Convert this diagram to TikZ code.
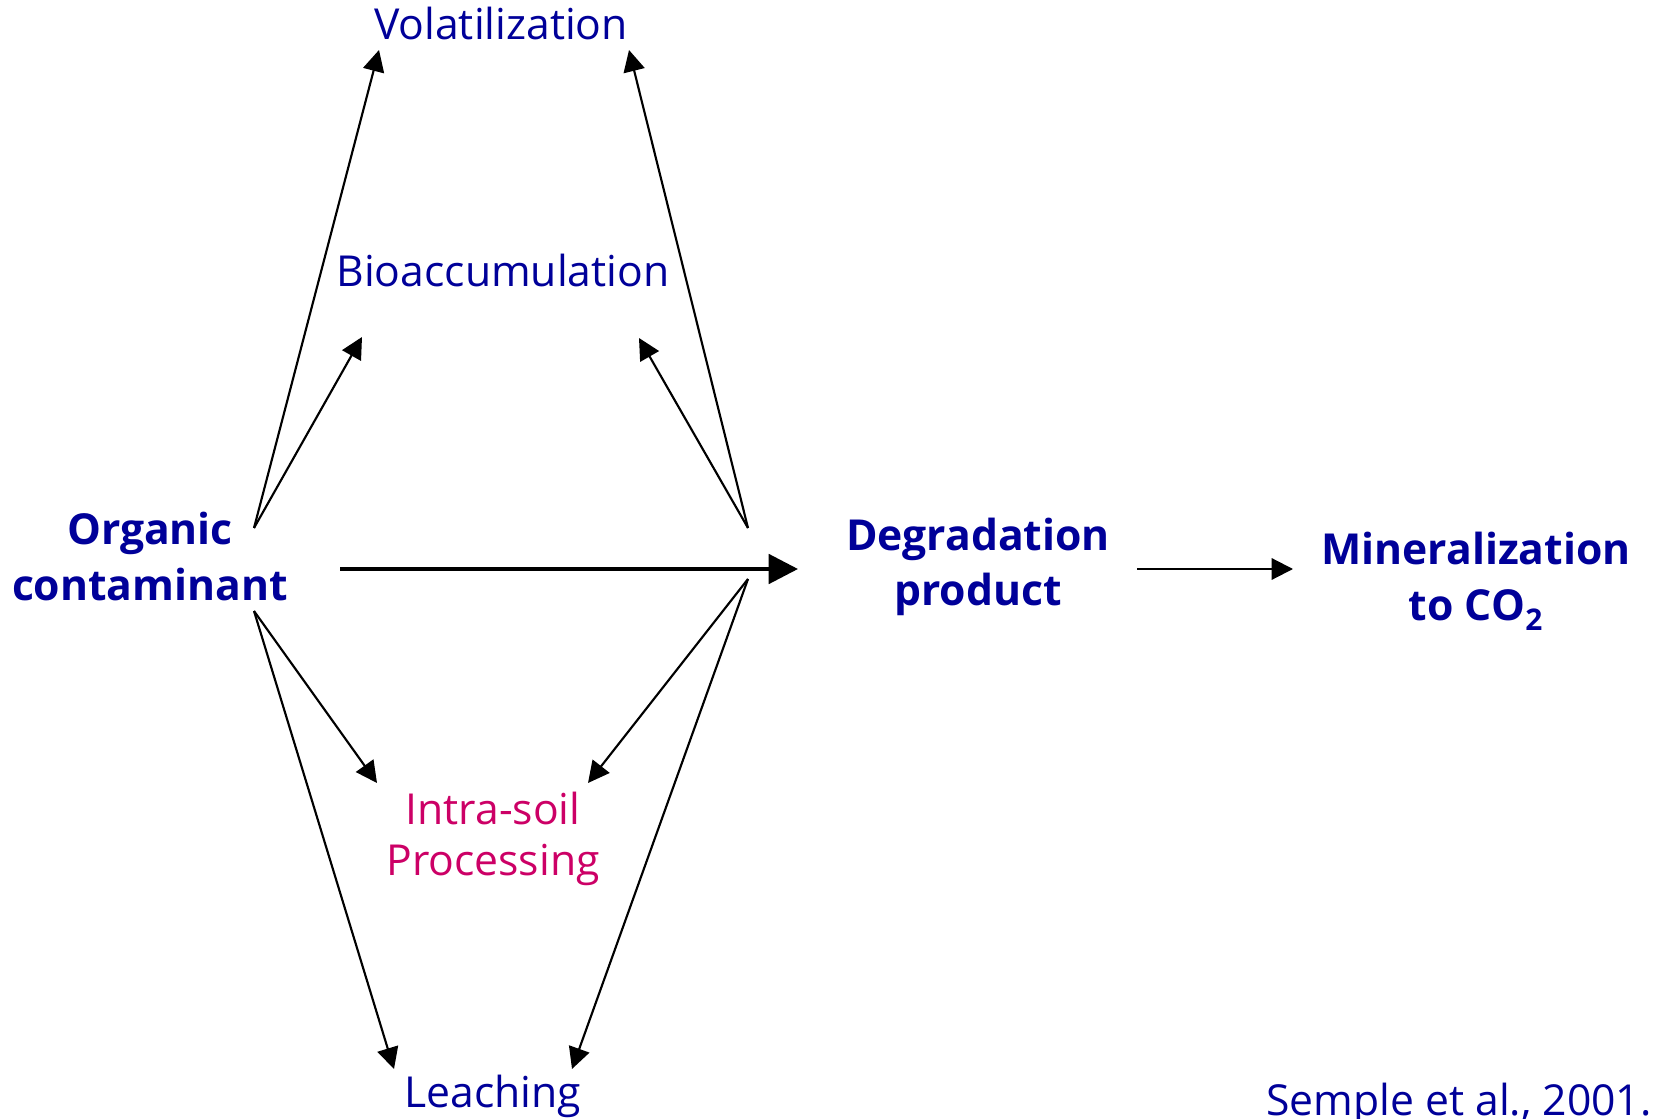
\documentclass[tikz,border=0pt]{standalone}
\usepackage{fontspec}
\setmainfont{Open Sans}
\usetikzlibrary{arrows.meta}
\definecolor{fate}{HTML}{000099}
\definecolor{soil}{HTML}{CC0066}

\begin{document}
\begin{tikzpicture}[x=0.75pt,y=-0.75pt,
    label/.style={text=fate,inner sep=0pt,anchor=base,align=center,font=\fontsize{32}{38}\selectfont},
    stage/.style={label,font=\fontsize{32}{42}\selectfont\bfseries},
    route/.style={line width=1.6pt,-{Triangle[length=16pt,width=16pt]}},
    mainroute/.style={line width=3pt,-{Triangle[length=22pt,width=22pt]}}]
  \useasboundingbox (0,0) rectangle (1657,1119);

  % the three stages of the contaminant (base = last line)
  \node[stage] (org) at (150,600) {Organic\\contaminant};
  \node[stage] (deg) at (978,606) {Degradation\\product};
  \node[stage] (min) at (1476,620) {Mineralization\\to CO\textsubscript{2}};

  % side fates, above and below the main line
  \node[label] (vol) at (501,40) {Volatilization};
  \node[label] (bio) at (503,287) {Bioaccumulation};
  \node[label,text=soil] (soil) at (493,875) {Intra-soil\\Processing};
  \node[label] (leach) at (493,1107) {Leaching};
  \node[label,anchor=base west] (ref) at (1266,1115) {Semple et al., 2001.};

  % fan points and arrow ends
  \coordinate (orgup) at (254,528);
  \coordinate (orglow) at (254,611);
  \coordinate (degup) at (748,528);
  \coordinate (deglow) at (748,579);
  \coordinate (volL) at (379,50);
  \coordinate (volR) at (629,50);
  \coordinate (bioL) at (362,337);
  \coordinate (bioR) at (639,338);
  \coordinate (soilL) at (377,783);
  \coordinate (soilR) at (588,783);
  \coordinate (leachL) at (394,1069);
  \coordinate (leachR) at (572,1069);
  \coordinate (orgout) at (340,569);
  \coordinate (degin) at (798,569);
  \coordinate (degout) at (1137,569);
  \coordinate (minin) at (1293,569);

  \draw[mainroute] (orgout) -- (degin);
  \draw[route] (degout) -- (minin);
  \foreach \from/\to in {orgup/volL,orgup/bioL,orglow/soilL,orglow/leachL,
                         degup/volR,degup/bioR,deglow/soilR,deglow/leachR}
    \draw[route] (\from) -- (\to);
\end{tikzpicture}
\end{document}
